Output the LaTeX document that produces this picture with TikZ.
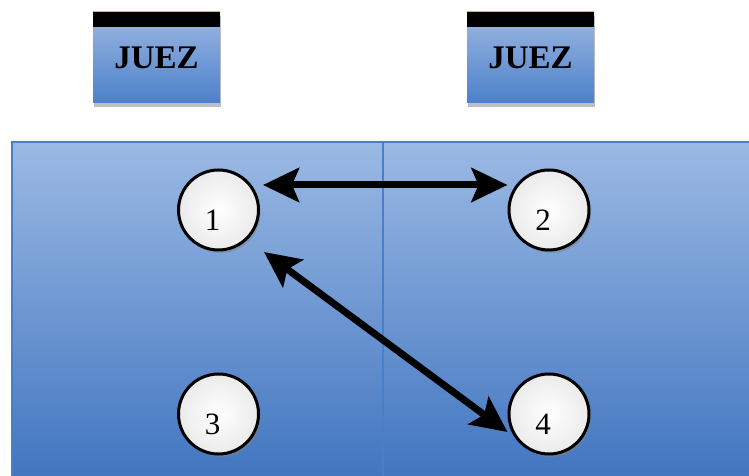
\documentclass[tikz,border=0pt]{standalone}
\usepackage{fontspec}
\setmainfont{Liberation Serif}
\usetikzlibrary{arrows.meta,shadows}
\definecolor{courttop}{HTML}{9BB9E4}
\definecolor{courtbot}{HTML}{3F74BF}
\definecolor{courtline}{HTML}{4A7EC6}
\definecolor{judgetop}{HTML}{9DB8E2}
\definecolor{judgebot}{HTML}{4C80CA}
\tikzset{
  judge/.style={rectangle, minimum width=127pt, minimum height=91pt, inner sep=0pt,
    top color=judgetop, bottom color=judgebot,
    font=\fontsize{33}{33}\selectfont\bfseries,
    drop shadow={shadow xshift=1pt, shadow yshift=-4pt, opacity=0.5},
    path picture={\fill[black] (path picture bounding box.north west) rectangle ([yshift=-15pt]path picture bounding box.north east);}},
  player/.style={circle, draw=black, line width=3pt, inner color=white, outer color=black!8, minimum size=80pt, inner sep=0pt,
    drop shadow={shadow xshift=2pt, shadow yshift=-3pt, opacity=0.5},
    label={[font=\fontsize{31}{31}\selectfont, xshift=-6pt, yshift=-10pt]center:#1}},
  dblarrow/.style={line width=7pt, black,
    {Stealth[length=36pt,width=34pt,inset=7pt]}-{Stealth[length=36pt,width=34pt,inset=7pt]}}
}
\begin{document}
\begin{tikzpicture}[x=1pt,y=1pt]
\useasboundingbox (0,0) rectangle (749,476);
\clip (0,0) rectangle (749,476);
% court
\path[top color=courttop, bottom color=courtbot] (12,334) rectangle (762,-10);
\draw[courtline, line width=2.5pt] (12,-10) -- (12,334) -- (762,334);
\coordinate (midtop) at (383,334);
\coordinate (midbot) at (383,-10);
\draw[courtline, line width=1.5pt] (midtop) -- (midbot);
% judges
\node[judge] (j1) at (156.5,418.5) {JUEZ};
\node[judge] (j2) at (530.5,418.5) {JUEZ};
% players
\node[player=1] (n1) at (218.5,266) {};
\node[player=2] (n2) at (549,266) {};
\node[player=3] (n3) at (218.5,62) {};
\node[player=4] (n4) at (549,62) {};
% arrows
\draw[dblarrow] ([xshift=3pt,yshift=25pt]n1.east) -- ([yshift=25pt]n2.west);
\draw[dblarrow] ([xshift=4pt,yshift=-42pt]n1.east) -- ([yshift=-18pt]n4.west);
\end{tikzpicture}
\end{document}
